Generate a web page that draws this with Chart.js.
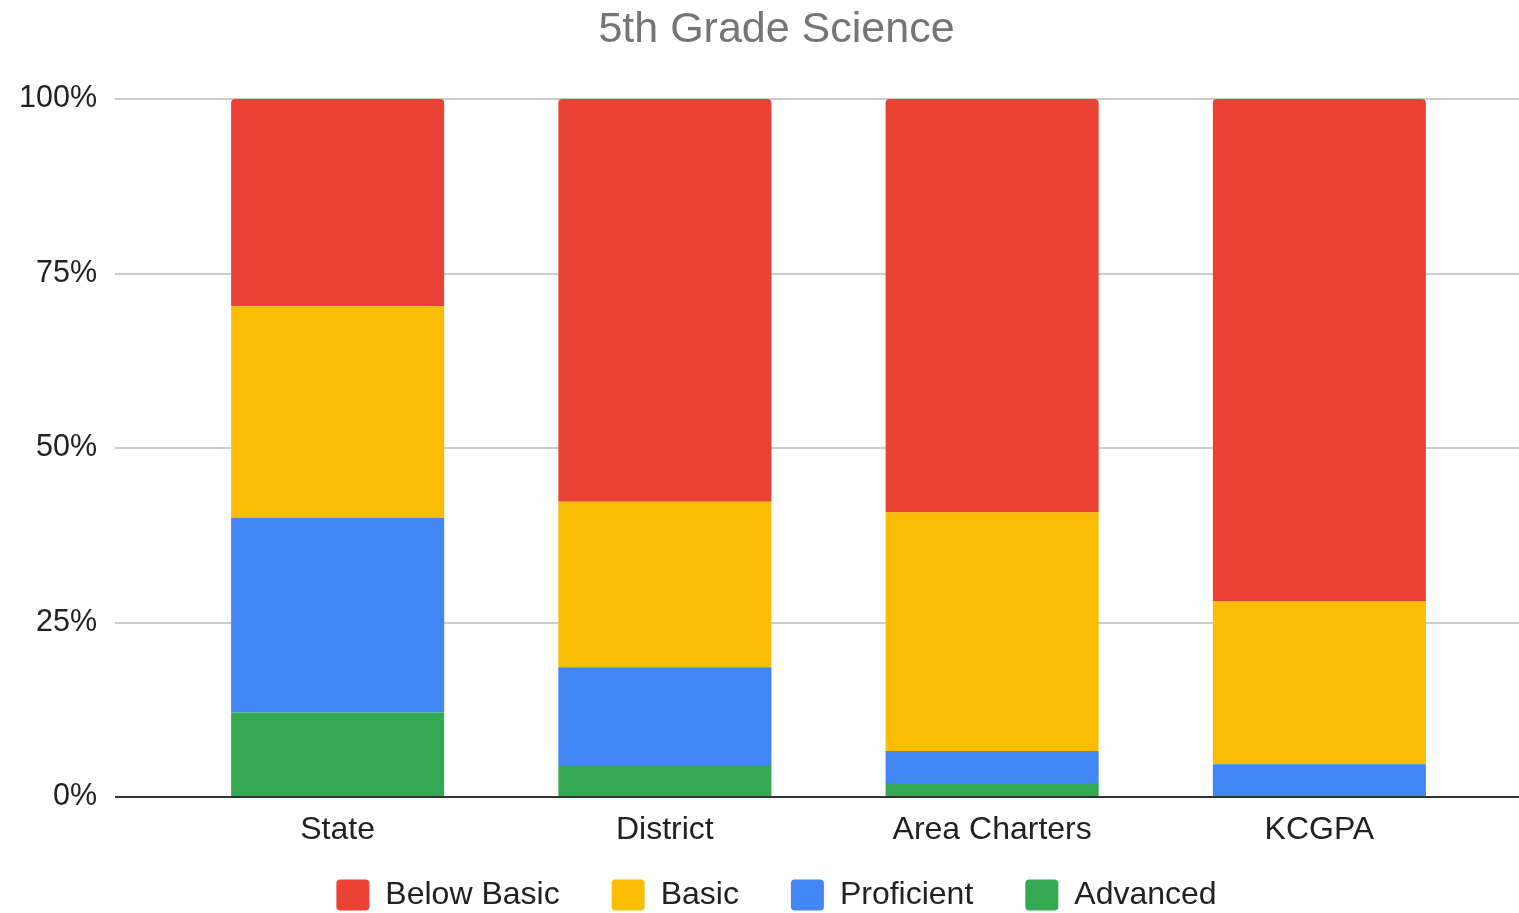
<!DOCTYPE html>
<html>
<head>
<meta charset="utf-8">
<title>5th Grade Science</title>
<script src="https://cdn.jsdelivr.net/npm/chart.js@4.4.1/dist/chart.umd.min.js"></script>
<style>
  html, body { margin: 0; padding: 0; background: #fff; overflow: hidden; }
  #wrap { position: relative; width: 1553px; height: 939px; }
</style>
</head>
<body>
<div id="wrap"><canvas id="chart"></canvas></div>
<script>
// Groups compared
const categories = ['State', 'District', 'Area Charters', 'KCGPA'];

// Share of students at each performance level (percent)
const belowBasic = [29.7, 57.7, 59.2, 72.0];
const basic      = [30.3, 23.7, 34.2, 23.3];
const proficient = [27.9, 14.0, 4.6, 4.7];
const advanced   = [12.1, 4.6, 2.0, 0];

// Value-axis ticks
const yTicks = [0, 25, 50, 75, 100];

const FONT = 'Liberation Sans, Arial, Helvetica, sans-serif';
const GRID = '#cccccc';
const BASE = '#333333';

const gridColor = (ctx) => (ctx.tick && ctx.tick.value === 0 ? BASE : GRID);

// Pull the legend row up closer to the category labels
const legendLift = {
  id: 'legendLift',
  afterLayout(chart) {
    const lg = chart.legend;
    if (lg) { lg.top -= 18; lg.bottom -= 18; }
  }
};

new Chart(document.getElementById('chart'), {
  type: 'bar',
  data: {
    labels: categories,
    // stacked bottom-up; legend lists them top-down
    datasets: [
      { label: 'Advanced',    data: advanced,   backgroundColor: '#34A853' },
      { label: 'Proficient',  data: proficient, backgroundColor: '#4285F4' },
      { label: 'Basic',       data: basic,      backgroundColor: '#FBBC04' },
      { label: 'Below Basic', data: belowBasic, backgroundColor: '#EA4335',
        borderRadius: { topLeft: 4, topRight: 4, bottomLeft: 0, bottomRight: 0 },
        borderSkipped: false }
    ]
  },
  plugins: [legendLift],
  options: {
    responsive: true,
    maintainAspectRatio: false,
    devicePixelRatio: 1,
    animation: false,
    layout: { padding: 0 },
    datasets: {
      bar: { categoryPercentage: 1, barPercentage: 0.651, borderWidth: 0 }
    },
    plugins: {
      title: {
        display: true,
        text: '5th Grade Science',
        color: '#757575',
        font: { family: FONT, size: 43, weight: 'normal' },
        padding: { top: 4, bottom: 43.4 }
      },
      legend: {
        position: 'bottom',
        reverse: true,
        labels: {
          boxWidth: 33,
          boxHeight: 31,
          padding: 52,
          color: '#222222',
          useBorderRadius: true,
          borderRadius: 4,
          font: { family: FONT, size: 32 }
        }
      },
      tooltip: { enabled: false }
    },
    scales: {
      x: {
        stacked: true,
        grid: { display: false, drawTicks: false },
        border: { display: false },
        ticks: { color: '#222222', padding: 14, font: { family: FONT, size: 32 } },
        afterFit: (s) => { s.height = 48; }
      },
      y: {
        stacked: true,
        min: 0,
        max: 100,
        afterBuildTicks: (s) => { s.ticks = yTicks.map(v => ({ value: v })); },
        ticks: {
          color: '#222222',
          padding: 18,
          font: { family: FONT, size: 30.5 },
          callback: (v) => v + '%'
        },
        grid: { color: gridColor, tickColor: gridColor, lineWidth: 2, tickWidth: 2, tickLength: 59, drawTicks: true },
        border: { display: false },
        afterFit: (s) => { s.width = 174; }
      },
      yRight: {
        position: 'right',
        min: 0,
        max: 100,
        afterBuildTicks: (s) => { s.ticks = yTicks.map(v => ({ value: v })); },
        ticks: { display: false },
        grid: { drawOnChartArea: false, color: gridColor, tickColor: gridColor, lineWidth: 2, tickWidth: 2, tickLength: 70, drawTicks: true },
        border: { display: false },
        afterFit: (s) => { s.width = 70; }
      }
    }
  }
});
</script>
</body>
</html>
